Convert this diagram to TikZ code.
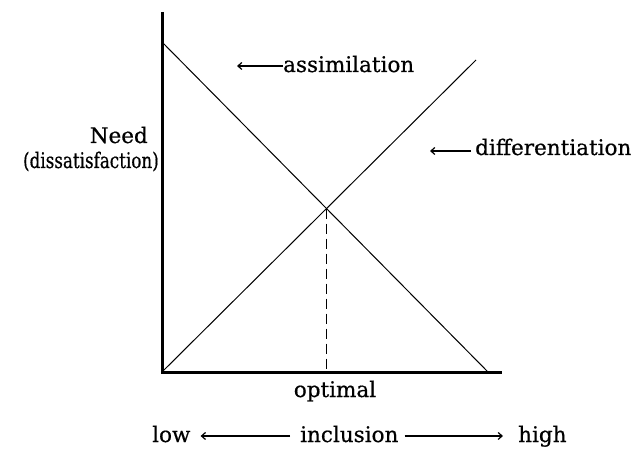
\documentclass[tikz,border=0pt]{standalone}
\usepackage{fontspec}
\setmainfont[FakeBold=0.6,AutoFakeBold=0.6]{DejaVu Serif}
\usetikzlibrary{arrows.meta,intersections}
\begin{document}
\begin{tikzpicture}[x=1pt,y=-1pt,
  lbl/.style={inner sep=0pt, font=\fontsize{21.5}{26}\selectfont\bfseries},
  axis/.style={line width=3pt, line join=miter},
  diag/.style={line width=1pt},
  textarrow/.style={line width=1.2pt, -{Straight Barb[length=4pt,width=7pt]}}]
\useasboundingbox (0,0) rectangle (637,449);
% axes
\coordinate (top) at (162,12);
\coordinate (origin) at (162,372);
\coordinate (xend) at (502,372);
\draw[axis] (top) -- (origin) -- (xend);
% diagonals
\coordinate (dstart) at (162,42);
\coordinate (dend) at (488,372);
\coordinate (aend) at (476,60);
\draw[diag, name path=desc] (dstart) -- (dend);
\draw[diag, name path=asc] (origin) -- (aend);
\path[name intersections={of=desc and asc, by=opt}];
\coordinate (optfoot) at (opt |- origin);
\draw[line width=1.4pt, dash pattern=on 10pt off 5pt] (opt) -- (optfoot);
% labels
\node[lbl, anchor=base west] (assim) at (283,72) {assimilation};
\coordinate (assimtip) at (237,66);
\draw[textarrow] ([yshift=-2pt]assim.west) -- ([yshift=-2pt]assim.west -| assimtip);
\node[lbl, anchor=base west] (diff) at (475,155) {differentiation};
\coordinate (difftip) at (430,151);
\draw[textarrow] ([xshift=-4pt,yshift=-4pt]diff.west) -- ([yshift=-4pt]diff.west -| difftip);
\node[lbl, anchor=base east] (need) at (148,143) {Need};
\node[lbl, anchor=base east] (dissat) at (159,168) {\scalebox{0.78}[1]{(dissatisfaction)}};
\node[lbl, anchor=base] (optimal) at (335,397) {optimal};
\node[lbl, anchor=base west] (low) at (152,442) {low};
\node[lbl, anchor=base west] (incl) at (300,442) {inclusion};
\node[lbl, anchor=base west] (high) at (518,442) {high};
\draw[textarrow, shorten <=10pt, shorten >=10pt] ([yshift=-2pt]incl.west) -- ([yshift=-2pt]incl.west -| low.east);
\draw[textarrow, shorten <=6pt, shorten >=15pt] ([yshift=-2pt]incl.east) -- ([yshift=-2pt]incl.east -| high.west);
\end{tikzpicture}
\end{document}
